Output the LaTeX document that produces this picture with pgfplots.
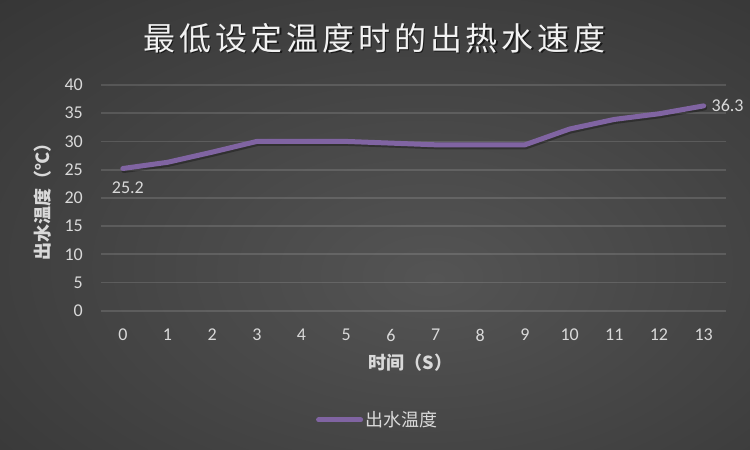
\documentclass[border=0pt]{standalone}
\usepackage{pgfplots}
\pgfplotsset{compat=1.18}
\usepackage{fontspec}
\setmainfont{Carlito}
\newfontfamily\cjk{Noto Sans CJK SC}
\definecolor{bgin}{RGB}{84,84,84}
\definecolor{bgout}{RGB}{36,36,36}
\definecolor{linec}{RGB}{128,100,162}
\definecolor{txt}{RGB}{217,217,217}
\pgfdeclareradialshading{bgshade}{\pgfpoint{4bp}{-6bp}}{color(0bp)=(bgin); color(64bp)=(bgout); color(100bp)=(bgout)}
\pgfplotstableread{
x y
0 25.2
1 26.3
2 28.1
3 30.0
4 30.0
5 30.0
6 29.7
7 29.4
8 29.4
9 29.4
10 32.2
11 33.9
12 34.9
13 36.3
}\datatable
\begin{document}
\begin{tikzpicture}[x=1pt,y=1pt]
\path[use as bounding box] (0,0) rectangle (750,450);
\shade[shading=bgshade] (0,0) rectangle (750,450);
\node[text=black, opacity=0.6, font=\cjk\fontsize{32}{36}\selectfont\addfontfeature{LetterSpace=12}] at (376,410.5) {最低设定温度时的出热水速度};
\node[text=white!95!black, font=\cjk\fontsize{32}{36}\selectfont\addfontfeature{LetterSpace=12}] at (374.5,412) {最低设定温度时的出热水速度};
\begin{axis}[
  scale only axis,
  width=625.5pt, height=225.7pt,
  at={(100.5pt,139.3pt)}, anchor=south west,
  xmin=-0.5, xmax=13.5, ymin=0, ymax=40,
  xtick={0,...,13}, ytick={0,5,...,40},
  /pgf/number format/assume math mode=true,
  axis line style={draw=none},
  major tick length=0pt,
  ymajorgrids, grid style={white, opacity=0.13, line width=1.8pt},
  xticklabel style={anchor=center, yshift=-24.3pt, inner sep=0pt, font=\fontsize{18}{20}\selectfont, text=txt},
  yticklabel style={anchor=east, xshift=-17.5pt, inner sep=0pt, font=\fontsize{18}{20}\selectfont, text=txt},
  every axis x label/.style={at={(axis description cs:0.5,0)}, yshift=-52.3pt, xshift=-3pt, anchor=center, font=\cjk\bfseries\fontsize{18}{20}\selectfont, text=txt},
  every axis y label/.style={at={(axis description cs:0,0.5)}, xshift=-57.5pt, rotate=90, anchor=center, font=\cjk\bfseries\fontsize{18}{20}\selectfont, text=txt},
  xlabel={时间（S）},
  ylabel={出水温度（℃）},
  legend style={at={(rel axis cs:0.443,-0.484)}, anchor=center, draw=none, fill=none, text=txt, font=\cjk\fontsize{18}{20}\selectfont, inner sep=0pt},
  legend cell align=left,
  clip=false,
]
\addplot[black, opacity=0.3, line width=5pt, line cap=round, line join=round, yshift=-2pt, xshift=1pt, forget plot] table[x=x,y=y] {\datatable};
\addplot[linec, line width=5pt, line cap=round, line join=round,
  legend image code/.code={\draw[linec, line width=5pt, line cap=round] (0pt,0pt) -- (42pt,0pt);}] table[x=x,y=y] {\datatable};
\addlegendentry{出水温度}
\node[text=txt, font=\fontsize{18}{20}\selectfont, anchor=center] at (axis cs:0,25.2) [xshift=5pt, yshift=-19pt] {25.2};
\node[text=txt, font=\fontsize{18}{20}\selectfont, anchor=west] at (axis cs:13,36.3) [xshift=4.5pt, yshift=0pt] {36.3};
\end{axis}
\end{tikzpicture}
\end{document}
